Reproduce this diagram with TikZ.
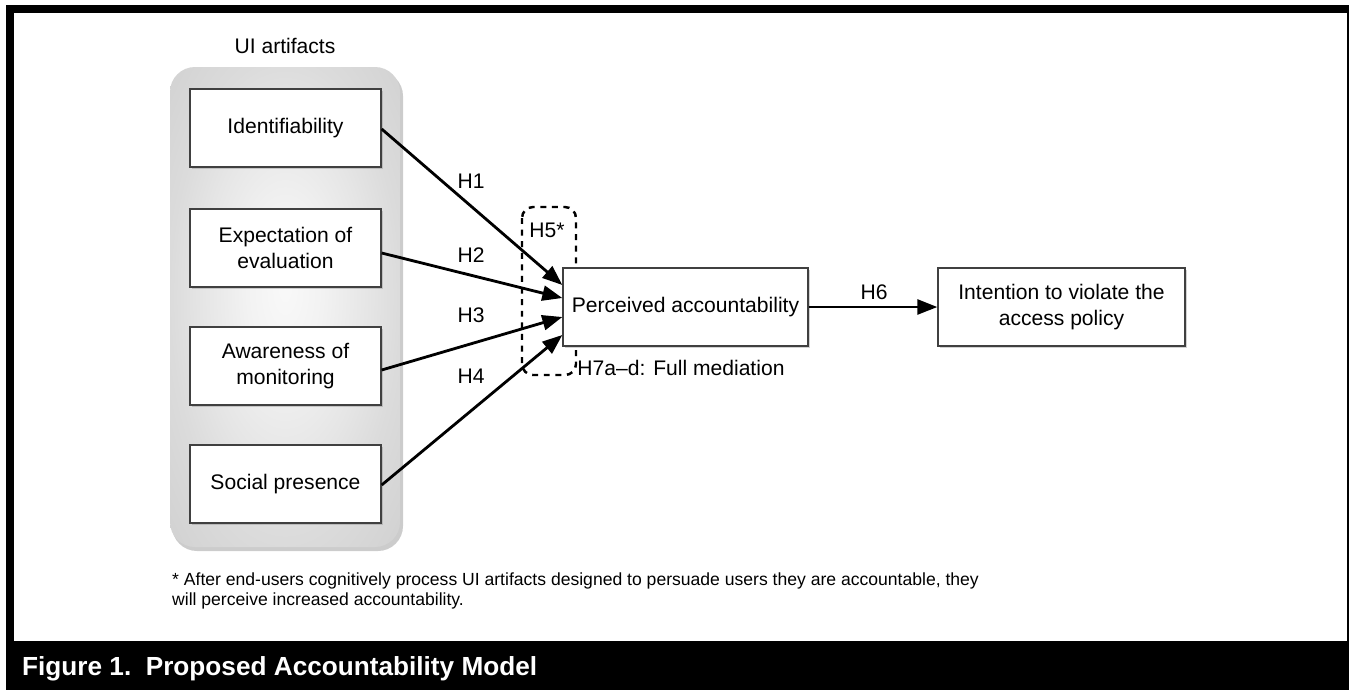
\documentclass[tikz,border=0pt]{standalone}
\usepackage{fontspec}
\setmainfont{Liberation Sans}
\usetikzlibrary{arrows.meta,calc,shadows}

\pgfdeclareradialshading{uishade}{\pgfpoint{0bp}{2bp}}{color(0bp)=(gray!5); color(8bp)=(gray!10); color(18bp)=(gray!20); color(25bp)=(gray!28); color(36bp)=(gray!36); color(50bp)=(gray!36)}

\tikzset{
    itembox/.style={draw=black!75, fill=white, line width=0.8pt, minimum width=3.82cm,
        minimum height=1.56cm, align=center, font=\fontsize{12}{14.5}\selectfont,
        drop shadow={shadow xshift=0.04cm, shadow yshift=-0.04cm, opacity=0.35}},
    hyparrow/.style={line width=1.6pt, -{Triangle[length=0.4cm, width=0.3cm]}},
    hyplabel/.style={font=\fontsize{12}{14.5}\selectfont}
}

\begin{document}
\begin{tikzpicture}[x=0.02cm, y=-0.02cm]
    \useasboundingbox (0,0) rectangle (1349,690);
    % Draw the black frame and the caption bar
    \fill[black] (6,5) rectangle (1349,690);
    \fill[white] (14,13) rectangle (1347,641);
    \node[anchor=west, text=white, font=\fontsize{14.9}{17}\selectfont\bfseries] (caption) at (16,669) {Figure 1.\ \ Proposed Accountability Model};
    % Draw the grey container of the UI artifacts
    \fill[black, opacity=0.2, rounded corners=0.5cm] (172,71) rectangle (403,551);
    \shade[shading=uishade, rounded corners=0.5cm] (170,67) rectangle (400,547);
    \node[hyplabel] (uilabel) at (285,46) {UI artifacts};
    % Draw the dashed box of H5
    \draw[line width=1.4pt, dash pattern=on 3.4pt off 3.2pt, rounded corners=0.22cm] (522,207) rectangle (576,375);
    \node[hyplabel] (h5) at (547,230) {H5*};
    % Draw the four UI artifact boxes
    \foreach \name/\y/\txt in {ident/128/Identifiability, expect/248/{Expectation of\\evaluation}, aware/366/{Awareness of\\monitoring}, social/484/Social presence} {
        \node[itembox] (\name) at (285.5,\y) {\txt};
    }
    % Draw the outcome boxes
    \node[itembox, minimum width=4.9cm] (pa) at (685.5,307) {Perceived accountability};
    \node[itembox, minimum width=4.94cm] (intent) at (1061.5,307) {Intention to violate the\\access policy};
    % Add the hypothesis arrows and labels
    \foreach \src/\sy/\dy/\lab/\ly in {ident/1/-22/H1/181, expect/5/-9/H2/255, aware/4/10/H3/315, social/1/28/H4/376} {
        \draw[hyparrow] ($(\src.east)+(0,\sy)$) -- ($(pa.west)+(0,\dy)$);
        \node[hyplabel] at (471,\ly) {\lab};
    }
    \draw[hyparrow] (pa) -- (intent);
    \node[hyplabel] (h6) at (874,292) {H6};
    \node[hyplabel] (h7) at (681,368) {H7a--d: Full mediation};
    % Add the footnote
    \node[anchor=north west, align=left, font=\fontsize{10}{11.2}\selectfont] (note) at (166,567) {* After end-users cognitively process UI artifacts designed to persuade users they are accountable, they\\will perceive increased accountability.};
\end{tikzpicture}
\end{document}
